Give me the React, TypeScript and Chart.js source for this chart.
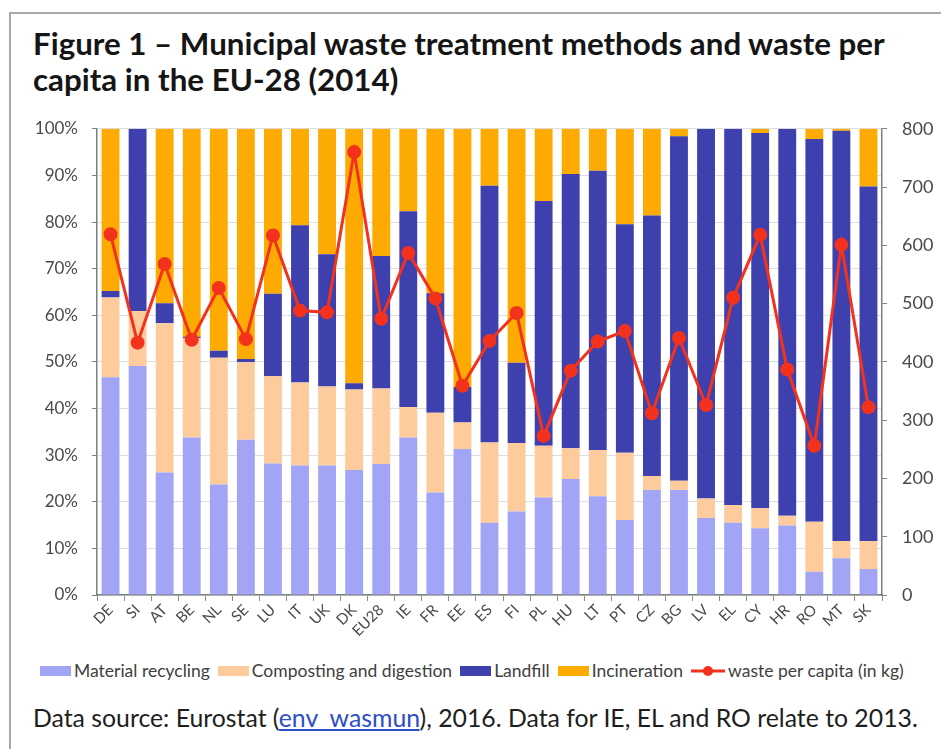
import React, { useEffect, useRef } from "react";
import { Chart, registerables } from "chart.js";

Chart.register(...registerables);

const categories = ["DE", "SI", "AT", "BE", "NL", "SE", "LU", "IT", "UK", "DK", "EU28", "IE", "FR", "EE", "ES", "FI", "PL", "HU", "LT", "PT", "CZ", "BG", "LV", "EL", "CY", "HR", "RO", "MT", "SK"];

const materialRecycling = [46.7, 49.1, 26.3, 33.8, 23.7, 33.3, 28.2, 27.8, 27.8, 26.8, 28.1, 33.8, 22.0, 31.3, 15.5, 17.9, 20.9, 24.9, 21.2, 16.1, 22.5, 22.5, 16.5, 15.5, 14.3, 14.9, 5.0, 7.9, 5.6];
const composting = [17.1, 11.8, 32.0, 21.3, 27.2, 16.6, 18.7, 17.8, 16.9, 17.3, 16.2, 6.5, 17.1, 5.7, 17.2, 14.7, 11.1, 6.6, 9.9, 14.4, 3.0, 2.0, 4.2, 3.8, 4.3, 2.1, 10.7, 3.7, 6.0];
const landfill = [1.4, 39.1, 4.3, 0.3, 1.5, 0.7, 17.7, 33.7, 28.4, 1.3, 28.4, 42.0, 25.6, 7.6, 55.1, 17.2, 52.5, 58.8, 59.9, 49.0, 55.9, 73.9, 79.3, 80.7, 80.5, 83.0, 82.1, 88.0, 76.0];
const incineration = [34.8, 0, 37.4, 44.6, 47.6, 49.4, 35.4, 20.7, 26.9, 54.6, 27.3, 17.7, 35.3, 55.4, 12.2, 50.2, 15.5, 9.7, 9.0, 20.5, 18.6, 1.6, 0, 0, 0.9, 0, 2.2, 0.4, 12.4];
const wastePerCapita = [619, 433, 568, 438, 527, 439, 617, 488, 485, 760, 474, 587, 509, 359, 436, 484, 273, 385, 435, 453, 312, 441, 326, 510, 618, 387, 256, 601, 322];

const leftTicks = [0, 10, 20, 30, 40, 50, 60, 70, 80, 90, 100];
const rightTicks = [0, 100, 200, 300, 400, 500, 600, 700, 800];

const COLORS = {
  recycling: "#A2A4F6",
  composting: "#FDCB9C",
  landfill: "#3E40AE",
  incineration: "#FDAA02",
  waste: "#F3321E",
};

const FONT = "Lato, 'Open Sans', sans-serif";

export default function App() {
  const canvasRef = useRef<HTMLCanvasElement | null>(null);

  useEffect(() => {
    if (!canvasRef.current) return;
    const chart = new Chart(canvasRef.current, {
      type: "bar",
      data: {
        labels: categories,
        datasets: [
          {
            type: "line",
            label: "waste per capita (in kg)",
            data: wastePerCapita,
            yAxisID: "y1",
            borderColor: COLORS.waste,
            backgroundColor: COLORS.waste,
            borderWidth: 3,
            pointRadius: 5.5,
            pointBackgroundColor: COLORS.waste,
            pointBorderColor: COLORS.waste,
            tension: 0,
            order: 0,
          } as any,
          { label: "Material recycling", data: materialRecycling, backgroundColor: COLORS.recycling, yAxisID: "y", order: 1, barPercentage: 0.66, categoryPercentage: 1 },
          { label: "Composting and digestion", data: composting, backgroundColor: COLORS.composting, yAxisID: "y", order: 1, barPercentage: 0.66, categoryPercentage: 1 },
          { label: "Landfill", data: landfill, backgroundColor: COLORS.landfill, yAxisID: "y", order: 1, barPercentage: 0.66, categoryPercentage: 1 },
          { label: "Incineration", data: incineration, backgroundColor: COLORS.incineration, yAxisID: "y", order: 1, barPercentage: 0.66, categoryPercentage: 1 },
        ],
      },
      options: {
        animation: false,
        responsive: false,
        maintainAspectRatio: false,
        layout: { padding: 0 },
        plugins: {
          legend: { display: false },
          tooltip: { enabled: false },
          title: { display: false },
        },
        scales: {
          x: {
            stacked: true,
            offset: true,
            grid: { drawOnChartArea: false, drawTicks: true, tickLength: 6, color: "#8c8c8c", offset: true },
            border: { color: "#7f7f7f", width: 1.5 },
            ticks: { autoSkip: false, minRotation: 45, maxRotation: 45, padding: 0, color: "#4a4a4a", font: { family: FONT, size: 15 } },
            afterFit: (s: any) => { s.height = 60; },
          },
          y: {
            stacked: true,
            position: "left",
            min: 0,
            max: 100,
            afterBuildTicks: (s: any) => { s.ticks = leftTicks.map((v) => ({ value: v })); },
            ticks: { padding: 14, color: "#4a4a4a", font: { family: FONT, size: 17 }, callback: (v: any) => v + "%" },
            grid: { color: "#dedede", tickColor: "#7f7f7f", tickLength: 5, lineWidth: 1 },
            border: { color: "#7f7f7f", width: 1.5 },
            afterFit: (s: any) => { s.width = 77; },
          },
          y1: {
            position: "right",
            min: 0,
            max: 800,
            afterBuildTicks: (s: any) => { s.ticks = rightTicks.map((v) => ({ value: v })); },
            ticks: { padding: 15, color: "#4a4a4a", font: { family: FONT, size: 18 } },
            grid: { drawOnChartArea: false, tickColor: "#7f7f7f", tickLength: 5 },
            border: { color: "#7f7f7f", width: 1.5 },
            afterFit: (s: any) => { s.width = 58; },
          },
        },
      },
    });
    return () => chart.destroy();
  }, []);

  const legendItems = [
    { label: "Material recycling", color: COLORS.recycling, kind: "box" },
    { label: "Composting and digestion", color: COLORS.composting, kind: "box" },
    { label: "Landfill", color: COLORS.landfill, kind: "box" },
    { label: "Incineration", color: COLORS.incineration, kind: "box" },
    { label: "waste per capita (in kg)", color: COLORS.waste, kind: "line" },
  ];

  return (
    <div style={{ position: "fixed", left: 0, top: 0, width: 941, height: 749, background: "#fff", overflow: "hidden", fontFamily: FONT }}>
      <div style={{ position: "absolute", left: 9, top: 12, width: 1000, height: 1000, borderLeft: "2px solid #a8a8a8", borderTop: "2px solid #a8a8a8" }} />
      <div style={{ position: "absolute", left: 33, top: 25, fontWeight: 700, fontSize: 31.3, lineHeight: "36px", color: "#151515", whiteSpace: "nowrap" }}>
        <div>Figure 1 – Municipal waste treatment methods and waste per</div>
        <div>capita in the EU-28 (2014)</div>
      </div>
      <canvas ref={canvasRef} width={920} height={552} style={{ position: "absolute", left: 20, top: 103, width: 920, height: 552 }} />
      <div style={{ position: "absolute", left: 40, top: 661, display: "flex", alignItems: "center", fontSize: 17.5, color: "#404040", whiteSpace: "nowrap", lineHeight: "20px" }}>
        {legendItems.map((it, i) => (
          <div key={i} style={{ display: "flex", alignItems: "center", marginRight: 8 }}>
            {it.kind === "box" ? (
              <span style={{ display: "inline-block", width: 31, height: 10, background: it.color, marginRight: 3 }} />
            ) : (
              <svg width={34} height={12} style={{ marginRight: 3 }}>
                <line x1={0} y1={6} x2={34} y2={6} stroke={it.color} strokeWidth={3} />
                <circle cx={17} cy={6} r={5} fill={it.color} />
              </svg>
            )}
            <span>{it.label}</span>
          </div>
        ))}
      </div>
      <div style={{ position: "absolute", left: 33, top: 702, fontSize: 24.8, color: "#1e1e1e", whiteSpace: "nowrap", lineHeight: "32px" }}>
        Data source: Eurostat (<span style={{ color: "#2a4fc9", textDecoration: "underline" }}>env_wasmun</span>), 2016. Data for IE, EL and RO relate to 2013.
      </div>
    </div>
  );
}
